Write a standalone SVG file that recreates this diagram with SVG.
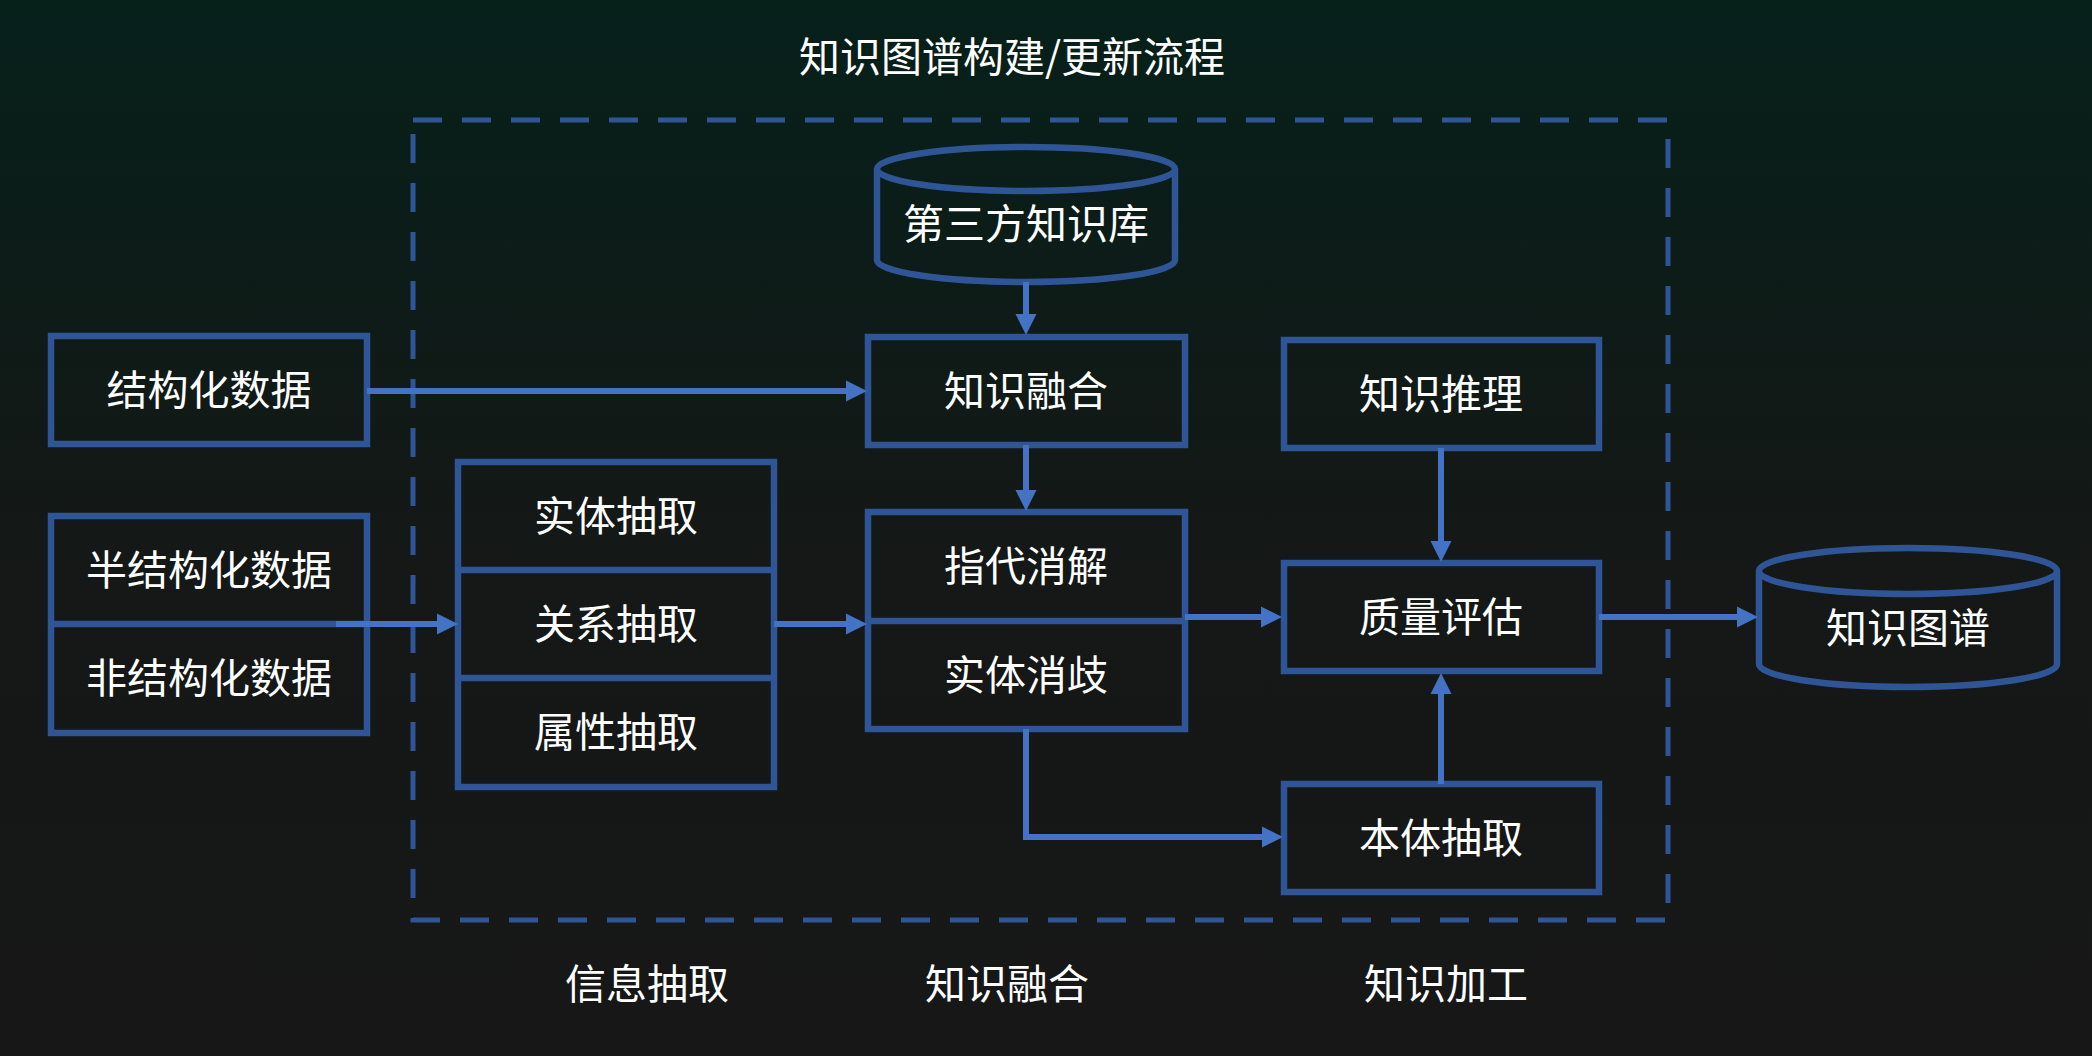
<svg xmlns="http://www.w3.org/2000/svg" width="2092" height="1056" viewBox="0 0 2092 1056">
<defs>
<linearGradient id="bg" x1="0" y1="0" x2="0" y2="1">
<stop offset="0" stop-color="#06201a"/>
<stop offset="0.5" stop-color="#141816"/>
<stop offset="1" stop-color="#171717"/>
</linearGradient>
<marker id="ah" markerUnits="userSpaceOnUse" markerWidth="22" markerHeight="22" viewBox="0 0 22 22" refX="0" refY="11" orient="auto">
<path d="M0,0.5 L21,11 L0,21.5 Z" fill="#4472c4"/>
</marker>
<style>
.box{fill:none;stroke:#2f5597;stroke-width:6.5}
.t{font-family:"Noto Sans CJK SC","Noto Sans",sans-serif;font-size:41px;fill:#ffffff;text-anchor:middle;dominant-baseline:central}
.c{fill:none;stroke:#4472c4;stroke-width:6;marker-end:url(#ah)}
.dash{fill:none;stroke:#2f5597;stroke-width:5;stroke-dasharray:29 20}
</style>
</defs>
<rect width="2092" height="1056" fill="url(#bg)"/>
<text class="t" x="1012" y="54">知识图谱构建/更新流程</text>
<rect id="stage-frame" class="dash" x="413" y="120" width="1255" height="800"/>

<g id="n-third-kb">
<path class="box" d="M877,169 A149,22 0 0,1 1175,169 A149,22 0 0,1 877,169 Z M877,169 L877,260 A149,22 0 0,0 1175,260 L1175,169"/>
<text class="t" x="1026" y="221">第三方知识库</text>
</g>
<g id="n-structured">
<rect class="box" x="51" y="336" width="316" height="108"/>
<text class="t" x="209" y="387">结构化数据</text>
</g>
<g id="n-semi-unstructured">
<rect class="box" x="51" y="516" width="316" height="217"/>
<line x1="51" y1="624" x2="367" y2="624" stroke="#2f5597" stroke-width="6.5"/>
<text class="t" x="209" y="567">半结构化数据</text>
<text class="t" x="209" y="675">非结构化数据</text>
</g>
<g id="n-extraction">
<rect class="box" x="458" y="462" width="316" height="325"/>
<line x1="458" y1="570" x2="774" y2="570" stroke="#2f5597" stroke-width="6.5"/>
<line x1="458" y1="678" x2="774" y2="678" stroke="#2f5597" stroke-width="6.5"/>
<text class="t" x="616" y="513">实体抽取</text>
<text class="t" x="616" y="621">关系抽取</text>
<text class="t" x="616" y="729">属性抽取</text>
</g>
<g id="n-fusion">
<rect class="box" x="868" y="337" width="317" height="108"/>
<text class="t" x="1026" y="388">知识融合</text>
</g>
<g id="n-resolution">
<rect class="box" x="868" y="512" width="317" height="217"/>
<line x1="868" y1="621" x2="1185" y2="621" stroke="#2f5597" stroke-width="6.5"/>
<text class="t" x="1026" y="563">指代消解</text>
<text class="t" x="1026" y="672">实体消歧</text>
</g>
<g id="n-reasoning">
<rect class="box" x="1284" y="340" width="315" height="108"/>
<text class="t" x="1441" y="391">知识推理</text>
</g>
<g id="n-quality">
<rect class="box" x="1284" y="563" width="315" height="108"/>
<text class="t" x="1441" y="614">质量评估</text>
</g>
<g id="n-ontology">
<rect class="box" x="1284" y="784" width="315" height="108"/>
<text class="t" x="1441" y="835">本体抽取</text>
</g>
<g id="n-kg">
<path class="box" d="M1759,571 A149,23 0 0,1 2057,571 A149,23 0 0,1 1759,571 Z M1759,571 L1759,664 A149,23 0 0,0 2057,664 L2057,571"/>
<text class="t" x="1908" y="625">知识图谱</text>
</g>

<g id="connectors">
<line class="c" x1="1026" y1="282" x2="1026" y2="314"/>
<line class="c" x1="367" y1="391" x2="846" y2="391"/>
<line class="c" x1="336" y1="624" x2="437" y2="624"/>
<line class="c" x1="774" y1="624" x2="846" y2="624"/>
<line class="c" x1="1026" y1="445" x2="1026" y2="490"/>
<line class="c" x1="1185" y1="617" x2="1261" y2="617"/>
<line class="c" x1="1441" y1="448" x2="1441" y2="541"/>
<line class="c" x1="1441" y1="784" x2="1441" y2="694"/>
<polyline class="c" points="1026,729 1026,837 1262,837"/>
<line class="c" x1="1599" y1="617" x2="1737" y2="617"/>
</g>

<text class="t" x="647" y="981">信息抽取</text>
<text class="t" x="1007" y="981">知识融合</text>
<text class="t" x="1446" y="981">知识加工</text>
</svg>
